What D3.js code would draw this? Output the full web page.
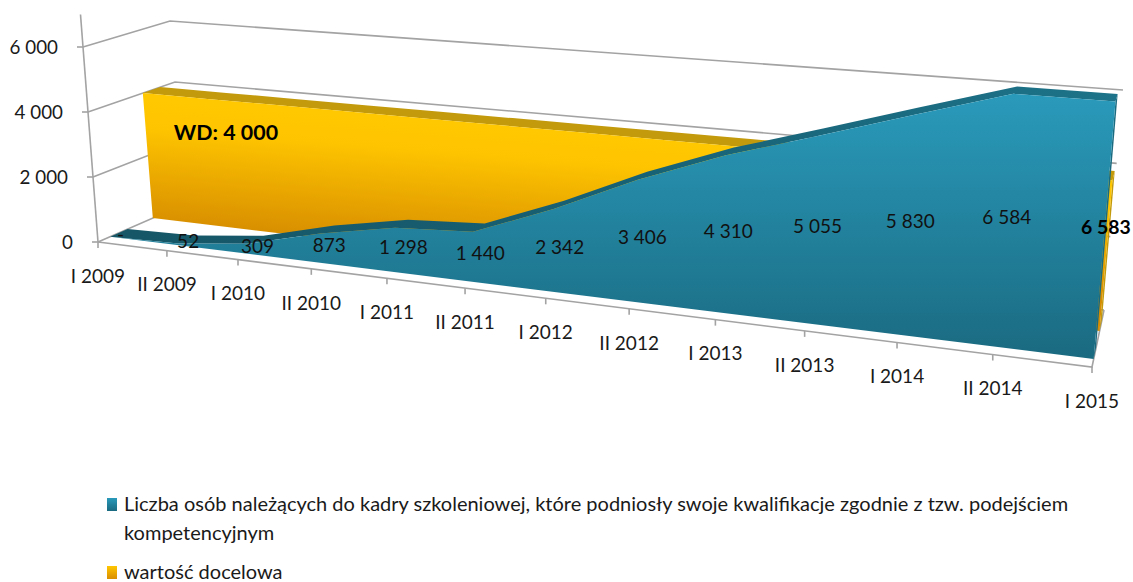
<!DOCTYPE html>
<html><head><meta charset="utf-8">
<script src="https://cdn.jsdelivr.net/npm/d3@7/dist/d3.min.js"></script>
<style>html,body{margin:0;padding:0;background:#fff}svg{display:block}text{font-family:Lato,"Open Sans",sans-serif;fill:#1a1a1a}</style>
</head><body><svg id="c" width="1133" height="582"></svg>
<script>
const categories=["I 2009","II 2009","I 2010","II 2010","I 2011","II 2011","I 2012","II 2012","I 2013","II 2013","I 2014","II 2014","I 2015"];
const trained=[0,52,309,873,1298,1440,2342,3406,4310,5055,5830,6584,6583];
const target=[4000,4000,4000,4000,4000,4000,4000,4000,4000,4000,4000,4000,4000];
const valueTicks=[0,2000,4000,6000];
const valueMax=7000;
const seriesNames=["Liczba osób należących do kadry szkoleniowej, które podniosły swoje kwalifikacje zgodnie z tzw. podejściem","kompetencyjnym","wartość docelowa"];
const fmt=v=>v===0?"0":d3.format(",")(v).replace(/,/g," ");
const lab=v=>v===0?"-":fmt(v);

const svg=d3.select("#c");
const defs=svg.append("defs");
function grad(id,stops,x1,y1,x2,y2,user){const g=defs.append("linearGradient").attr("id",id).attr("x1",x1).attr("y1",y1).attr("x2",x2).attr("y2",y2);
 if(user)g.attr("gradientUnits","userSpaceOnUse");
 stops.forEach(([o,c])=>g.append("stop").attr("offset",o).attr("stop-color",c));}
grad("teal",[[0,"#2a9abb"],[1,"#1a6a80"]],0,0,0,1);
grad("goldSw",[[0,"#ffc600"],[1,"#d98e00"]],0,0,0,1);
grad("gold",[[0,"#ffc800"],[.22,"#fec400"],[1,"#d68c00"]],210,105,200,232,true);
grad("tealTop",[[0,"#165666"],[.45,"#175f72"],[1,"#1d7389"]],0,0,1,0);

// projected box: floor corners and corners at the 6000 level
const floor={fl:[98,242],fr:[1092,367],br:[1104,310],bl:[185,204]};
const top6={fl:[83,47],fr:[1112,130],br:[1123,90],bl:[170,21]};
const tScale=d3.scaleLinear().domain([0,categories.length-1]).range([0,1]);
const vScale=d3.scaleLinear().domain([0,6000]).range([0,1]);
const persp=.22;
const along=i=>{const t=tScale(i);return t/(1+persp*(1-t));};
function bil(q,t,d,k){const f=q.fl[k]+(q.fr[k]-q.fl[k])*t,b=q.bl[k]+(q.br[k]-q.bl[k])*t;return f+(b-f)*d;}
function P(i,d,v){const t=along(i),f=vScale(v);
 return [0,1].map(k=>{const a=bil(floor,t,d,k),b=bil(top6,t,d,k);return a+(b-a)*f;});}
const line=d3.line();
const n=categories.length-1;
const grey="#a3a3a3";
const stroke=(pts,w=1.6)=>svg.append("path").attr("d",line(pts)).attr("fill","none").attr("stroke",grey).attr("stroke-width",w);

// walls
valueTicks.forEach(v=>{
  stroke([P(0,0,v),P(0,1,v),P(n,1,v)]);
  const a=P(0,0,v);
  stroke([[a[0]-6,a[1]],a]);
  svg.append("text").attr("x",a[0]-25).attr("y",a[1]+2).attr("dominant-baseline","middle").attr("text-anchor","end").style("font-size","18.8px").text(fmt(v));
});
stroke([P(0,0,0),P(0,0,valueMax)]);
stroke([P(0,0,0),P(n,0,0),P(n,1,0)]);
categories.forEach((c,i)=>{
  const a=P(i,0,0);
  stroke([a,[a[0],a[1]+6]]);
  svg.append("text").attr("x",a[0]).attr("y",a[1]+36).attr("dominant-baseline","middle").attr("text-anchor","middle").style("font-size","19px").text(c);
});

function slab(vals,d1,d2,front,topFill,endFill){
  const idx=d3.range(vals.length);
  const fr=idx.map(i=>P(i,d1,vals[i])), bk=idx.map(i=>P(i,d2,vals[i]));
  svg.append("path").attr("d",line([P(n,d1,0),P(n,d2,0),bk[n],fr[n]])+"Z").attr("fill",endFill);
  svg.append("path").attr("d",line(fr.concat(bk.slice().reverse()))+"Z").attr("fill",topFill);
  svg.append("path").attr("d",line(fr.concat([P(n,d1,0),P(0,d1,0)]))+"Z").attr("fill",front);
}
slab(target,.63,.83,"url(#gold)","#c39a0b","#c39a0b");
slab(trained,.14,.34,"url(#teal)","url(#tealTop)","#1a6a80");

// labels
trained.forEach((v,i)=>{
  const last=i===n, p=P(i,.26,v/2);
  svg.append("text").attr("x",p[0]).attr("y",p[1]+4).attr("dominant-baseline","middle").attr("text-anchor","middle")
   .style("font-size",last?"19.4px":"19px").style("font-weight",last?700:400).style("fill",last?"#000":"#111").text(lab(v));
});
const wd=P(0,.63,target[0]);
svg.append("text").attr("x",wd[0]+31).attr("y",wd[1]+41).attr("dominant-baseline","middle")
  .style("font-size","21.4px").style("font-weight",700).style("fill","#000").text("WD: "+fmt(target[0]));

// legend
const lg=[["url(#teal)",505],[null,534],["url(#goldSw)",573]];
lg.forEach(([f,y],i)=>{
  if(f) svg.append("rect").attr("x",107).attr("y",y-7).attr("width",10).attr("height",13).attr("fill",f);
  svg.append("text").attr("x",124).attr("y",y+1).attr("dominant-baseline","middle").style("font-size","20px").text(seriesNames[i]);
});
</script></body></html>
